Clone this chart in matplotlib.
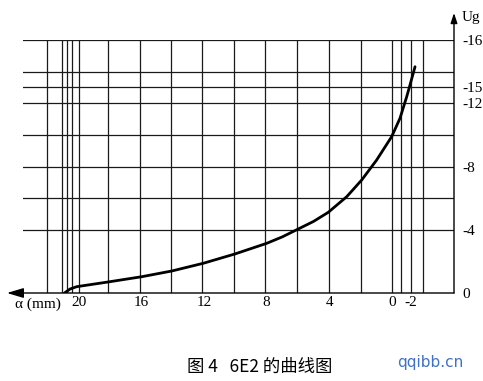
import matplotlib
matplotlib.use("Agg")
import matplotlib.pyplot as plt

# ---- data ----
alpha_mm = [20.9, 20.55, 20.12, 18.1, 15.97, 14.06, 12.04, 10.02, 8.0, 7.0, 6.08, 5.02,
            4.07, 2.89, 1.93, 0.98, 0.02, -0.51, -0.94, -1.15, -1.47]
ug = [0.0, -0.25, -0.40, -0.70, -1.03, -1.39, -1.88, -2.47, -3.14, -3.55, -4.0, -4.52,
      -5.10, -6.09, -7.15, -8.41, -9.89, -11.05, -12.42, -13.16, -14.31]

x_grid = [22, 21.05, 20.75, 20.4, 20, 18.15, 16.05, 14.1, 12.1, 10.1, 8.1, 6.05, 4.05,
          2.0, 0.0, -0.58, -1.2, -1.98]
y_grid = [-4, -6, -8, -10, -12, -13, -14, -16]

x_tick_pos = [20, 16, 12, 8, 4, 0, -1.2]
x_tick_labels = ['20', '16', '12', '8', '4', '0', '-2']
y_tick_pos = [0, -4, -8, -12, -13, -16]
y_tick_labels = ['0', '-4', '-8', '-12', '-15', '-16']

W, H = 483, 381
fig = plt.figure(figsize=(W / 100, H / 100), dpi=100)

# axes in pixel layout
px_left, px_right, px_top, px_bottom = 23, 454, 40, 293
ax = fig.add_axes([px_left / W, 1 - px_bottom / H, (px_right - px_left) / W,
                   (px_bottom - px_top) / H])
sx = 15.67  # px per mm
x0px = 392
xl = (x0px - px_left) / sx
xr = (x0px - px_right) / sx
ax.set_xlim(xl, xr)
ax.set_ylim(0, -16)
for s in ax.spines.values():
    s.set_visible(False)

grid_kw = dict(color='#1a1a1a', linewidth=0.9, zorder=1)
for yv in y_grid:
    ax.axhline(yv, **grid_kw)
for xv in x_grid:
    ax.axvline(xv, **grid_kw)

ax.plot(alpha_mm, ug, color='black', linewidth=2.0, zorder=3,
        solid_capstyle='round', solid_joinstyle='round')

# axes with arrows
sy = 253 / 16
y_arrow_top = -(px_bottom - 13) / sy
x_arrow_left = (x0px - 7) / sx
ax.annotate('', xy=(x_arrow_left, 0), xytext=(xr, 0), annotation_clip=False,
            arrowprops=dict(arrowstyle='-|>,head_length=1.0,head_width=0.3', color='black',
                            lw=1.0, shrinkA=0, shrinkB=0))
ax.annotate('', xy=(xr, y_arrow_top), xytext=(xr, 0), annotation_clip=False,
            arrowprops=dict(arrowstyle='-|>,head_length=0.6,head_width=0.2', color='black',
                            lw=1.0, shrinkA=0, shrinkB=0))

serif = ['Liberation Serif', 'DejaVu Serif']
ax.set_xticks(x_tick_pos)
ax.set_xticklabels(x_tick_labels, family=serif, fontsize=11)
ax.set_yticks(y_tick_pos)
ax.set_yticklabels(y_tick_labels, family=serif, fontsize=11)
ax.yaxis.tick_right()
ax.tick_params(axis='x', length=0, pad=2.5)
ax.tick_params(axis='y', length=0, pad=6)

fig.text(15 / W, 1 - 304 / H, 'α (mm)', family=serif, fontsize=11, ha='left', va='center')
fig.text(462 / W, 1 - 18 / H, 'Ug', family=serif, fontsize=11, ha='left', va='center')

fig.text(260 / W, 1 - 367 / H, '图 4   6E2 的曲线图',
         family=['Noto Sans CJK SC', 'DejaVu Sans'], fontsize=12.5, ha='center', va='center')
fig.text(430 / W, 1 - 362 / H, 'qqibb.cn', family=['DejaVu Sans'], fontsize=11,
         color='#3f72c4', ha='center', va='center')

fig.savefig('out.png', dpi=100)
